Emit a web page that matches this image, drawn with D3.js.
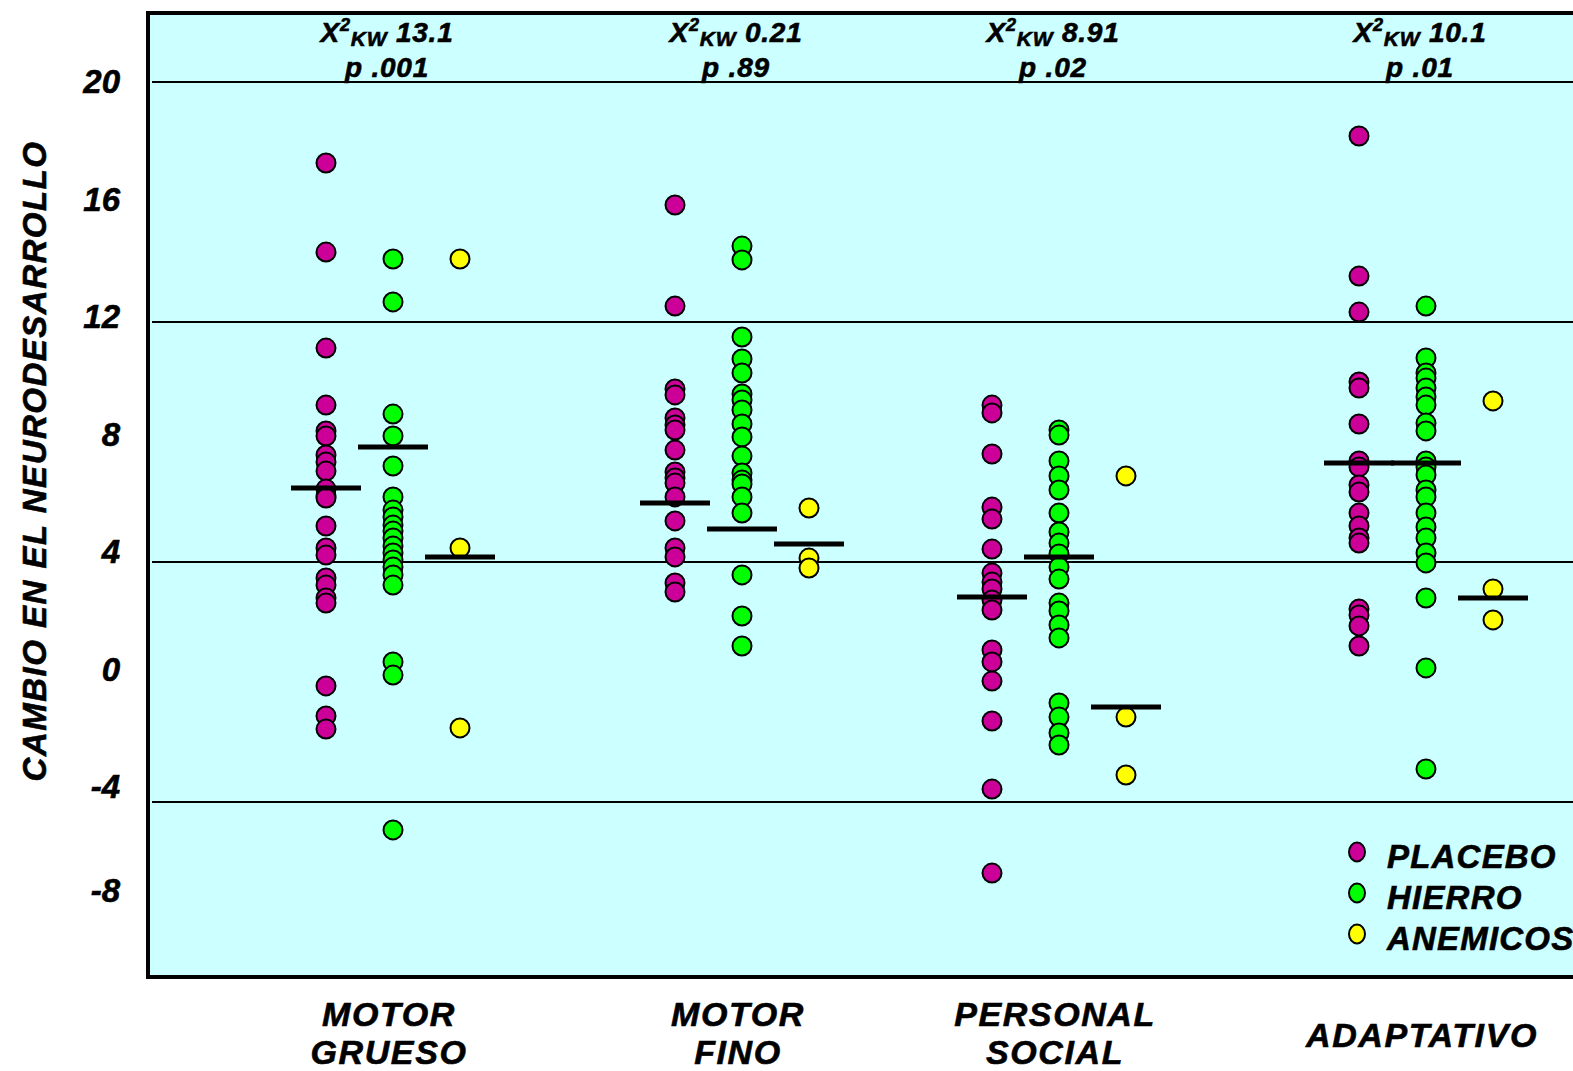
<!DOCTYPE html>
<html>
<head>
<meta charset="utf-8">
<script src="https://cdn.jsdelivr.net/npm/d3@7"></script>
<style>
  html, body { margin: 0; padding: 0; background: #ffffff; }
  svg { display: block; }
  text { font-family: "Liberation Sans", Arial, sans-serif; font-weight: bold; font-style: italic; fill: #000; stroke: #000; stroke-width: 0.6px; }
</style>
</head>
<body>
<svg id="chart" width="1573" height="1071"></svg>
<script>
// Developmental areas and treatment groups
const categories = ["MOTOR GRUESO", "MOTOR FINO", "PERSONAL SOCIAL", "ADAPTATIVO"];
const categoryLines = [["MOTOR", "GRUESO"], ["MOTOR", "FINO"], ["PERSONAL", "SOCIAL"], ["ADAPTATIVO"]];
const series = ["PLACEBO", "HIERRO", "ANEMICOS"];
const seriesColors = ["#CC0099", "#00FF00", "#FFFF00"];

// Individual changes per area (one inner array per category)
const placebo = [
  [17.3, 14.33, 11.13, 9.23, 8.37, 8.2, 7.57, 7.33, 7.03, 6.43, 6.2, 6.13, 5.2, 4.47, 4.23, 3.47, 3.23, 2.8, 2.63, -0.13, -1.13, -1.57],
  [15.9, 12.53, 9.77, 9.57, 8.8, 8.57, 8.4, 7.73, 7.0, 6.8, 6.63, 6.17, 5.37, 4.47, 4.17, 3.3, 3.0],
  [9.23, 8.97, 7.6, 5.83, 5.43, 4.43, 3.63, 3.33, 3.1, 2.73, 2.4, 1.07, 0.67, 0.03, -1.3, -3.57, -6.37],
  [18.2, 13.53, 12.33, 10.0, 9.8, 8.6, 7.37, 7.17, 6.57, 6.33, 5.63, 5.2, 4.8, 4.63, 2.43, 2.23, 1.87, 1.2]
];
const hierro = [
  [14.1, 12.67, 8.93, 8.2, 7.2, 6.17, 5.73, 5.5, 5.23, 5.03, 4.8, 4.53, 4.3, 4.07, 3.83, 3.57, 3.23, 0.67, 0.23, -4.93],
  [14.53, 14.07, 11.5, 10.77, 10.3, 9.6, 9.4, 9.07, 8.6, 8.17, 7.53, 6.97, 6.73, 6.6, 6.17, 5.63, 3.57, 2.2, 1.2],
  [8.4, 8.23, 7.37, 6.87, 6.4, 5.63, 5.0, 4.63, 4.27, 3.83, 3.43, 2.63, 2.37, 1.9, 1.47, -0.7, -1.17, -1.7, -2.1],
  [12.53, 10.8, 10.3, 10.13, 9.8, 9.5, 9.23, 8.63, 8.37, 7.37, 7.17, 6.9, 6.4, 6.17, 5.63, 5.17, 4.8, 4.3, 3.97, 2.8, 0.47, -2.9]
];
const anemicos = [
  [14.1, 4.47, -1.53],
  [5.8, 4.13, 3.8],
  [6.87, -1.17, -3.1],
  [9.37, 3.1, 2.07]
];

// Group medians (placebo, hierro, anemicos) per category
const medianPlacebo = [6.47, 5.97, 2.83, 7.3];
const medianHierro = [7.83, 5.1, 4.17, 7.3];
const medianAnemicos = [4.17, 4.6, -0.83, 2.8];

// Kruskal-Wallis results per category
const kwChi = ["13.1", "0.21", "8.91", "10.1"];
const kwP = [".001", ".89", ".02", ".01"];

// Axis
const yTickValues = [20, 16, 12, 8, 4, 0, -4, -8];
const gridValues = [20, 12, 4, -4];
const yTitle = "CAMBIO EN EL NEURODESARROLLO";

// ---- layout ----
const plotLeft = 148, plotTop = 13, plotBottom = 977, plotRight = 1590;
const svg = d3.select("#chart");

const y = d3.scaleLinear().domain([20, -4]).range([82, 802]);
// label positions on the value axis
const yLabel = d3.scaleLinear().domain([20, -4, -8]).range([81, 786, 890]);
const xCat = d3.scaleOrdinal().domain(categories).range([393, 742, 1059, 1426]);
const xSer = d3.scalePoint().domain(series).range([-67, 67]);
const color = d3.scaleOrdinal().domain(series).range(seriesColors);

// plot background
svg.append("rect")
  .attr("x", plotLeft).attr("y", plotTop)
  .attr("width", plotRight - plotLeft).attr("height", plotBottom - plotTop)
  .attr("fill", "#CCFFFF");

// horizontal grid lines
svg.append("g").selectAll("line").data(gridValues).join("line")
  .attr("x1", plotLeft + 4).attr("x2", plotRight)
  .attr("y1", d => y(d)).attr("y2", d => y(d))
  .attr("stroke", "#000").attr("stroke-width", 2);

// frame (left, top, bottom)
svg.append("path")
  .attr("d", `M${plotRight},${plotTop} H${plotLeft} V${plotBottom} H${plotRight}`)
  .attr("fill", "none").attr("stroke", "#000").attr("stroke-width", 4);

// value axis labels
const yAxis = d3.axisLeft(yLabel).tickValues(yTickValues).tickSize(0).tickPadding(28)
  .tickFormat(d => String(d));
const gy = svg.append("g").attr("transform", `translate(${plotLeft},0)`).call(yAxis);
gy.select(".domain").remove();
gy.selectAll("text")
  .attr("font-family", "'Liberation Sans', Arial, sans-serif")
  .attr("font-size", 33).attr("font-weight", "bold").attr("font-style", "italic")
  .attr("dy", "0.36em").attr("fill", "#000");

// axis title
svg.append("text")
  .attr("transform", "translate(46,461) rotate(-90)")
  .attr("text-anchor", "middle")
  .attr("font-size", 33)
  .attr("letter-spacing", 1.5)
  .text(yTitle);

// points
const groups = [placebo, hierro, anemicos];
const points = [];
categories.forEach((c, ci) => {
  series.forEach((s, si) => {
    groups[si][ci].forEach(v => points.push({ cat: c, ser: s, value: v }));
  });
});
svg.append("g").selectAll("circle").data(points).join("circle")
  .attr("cx", d => xCat(d.cat) + xSer(d.ser))
  .attr("cy", d => y(d.value))
  .attr("r", 9.5)
  .attr("fill", d => color(d.ser))
  .attr("stroke", "#000").attr("stroke-width", 2);

// median bars
const medians = [medianPlacebo, medianHierro, medianAnemicos];
const medianData = [];
categories.forEach((c, ci) => {
  series.forEach((s, si) => medianData.push({ cat: c, ser: s, value: medians[si][ci] }));
});
svg.append("g").selectAll("line").data(medianData).join("line")
  .attr("x1", d => xCat(d.cat) + xSer(d.ser) - 35)
  .attr("x2", d => xCat(d.cat) + xSer(d.ser) + 35)
  .attr("y1", d => y(d.value)).attr("y2", d => y(d.value))
  .attr("stroke", "#000").attr("stroke-width", 5);

// Kruskal-Wallis statistics above each area
const stats = svg.append("g").selectAll("g").data(categories).join("g")
  .attr("transform", (c) => `translate(${xCat(c) - 6},0)`);
const l1 = stats.append("text").attr("text-anchor", "middle").attr("y", 42)
  .attr("font-size", 28).attr("letter-spacing", 0.8);
l1.append("tspan").text("X");
l1.append("tspan").attr("dy", -11).attr("font-size", 18).text("2");
l1.append("tspan").attr("dy", 15).attr("font-size", 21).text("KW");
l1.append("tspan").attr("dy", -4).text((c, i) => " " + kwChi[i]);
stats.append("text").attr("text-anchor", "middle").attr("y", 77)
  .attr("font-size", 28).attr("letter-spacing", 0.8)
  .text((c, i) => "p " + kwP[i]);

// category labels
const catG = svg.append("g").selectAll("text").data(categories).join("text")
  .attr("text-anchor", "middle")
  .attr("font-size", 34)
  .attr("letter-spacing", 1.6);
catG.each(function (c, i) {
  const lines = categoryLines[i];
  const t = d3.select(this);
  if (lines.length === 1) {
    t.append("tspan").attr("x", xCat(c) - 4).attr("y", 1047).text(lines[0]);
  } else {
    lines.forEach((ln, k) => t.append("tspan").attr("x", xCat(c) - 4).attr("y", 1026 + k * 38).text(ln));
  }
});

// legend
const legend = svg.append("g").selectAll("g").data(series).join("g")
  .attr("transform", (s, i) => `translate(1357,${852 + i * 41})`);
legend.append("ellipse").attr("rx", 8).attr("ry", 9.5)
  .attr("fill", s => color(s)).attr("stroke", "#000").attr("stroke-width", 2);
legend.append("text").attr("x", 30).attr("y", 16).attr("font-size", 33)
  .attr("letter-spacing", 1.2).text(s => s);
</script>
</body>
</html>
